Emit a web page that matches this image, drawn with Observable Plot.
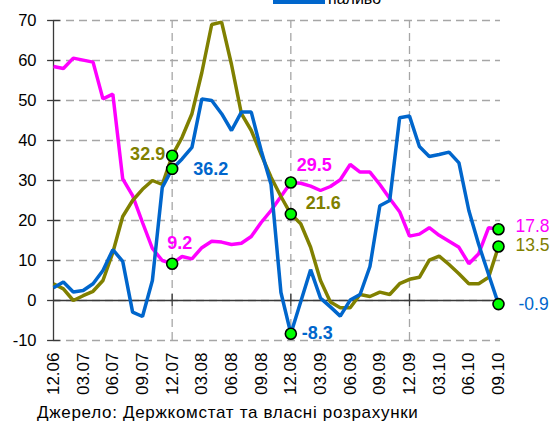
<!DOCTYPE html>
<html><head><meta charset="utf-8">
<script src="https://cdn.jsdelivr.net/npm/d3@7"></script>
<script src="https://cdn.jsdelivr.net/npm/@observablehq/plot@0.6"></script>
<style>
body{margin:0;background:#fff;font-family:"Liberation Sans",Arial,sans-serif;}
#wrap{position:relative;width:552px;height:430px;overflow:hidden;background:#fff;}
#chart{position:absolute;left:0;top:0;}
#legend{position:absolute;left:0;top:0;width:552px;height:8px;overflow:hidden;}
.sw{position:absolute;left:273px;top:0px;width:52px;height:4px;background:#0066CC;}
.lt{position:absolute;left:328px;top:-10px;font-size:16px;line-height:18px;color:#000;white-space:nowrap;}
#source{position:absolute;left:37px;top:403px;font-size:17px;line-height:20px;letter-spacing:0.7px;color:#000;white-space:nowrap;}
</style></head>
<body>
<div id="wrap">
  <div id="chart"></div>
  <div id="legend"><div class="sw"></div><div class="lt">паливо</div></div>
  <div id="source">Джерело: Держкомстат та власні розрахунки</div>
</div>
<script>
// monthly observations, 12.06 .. 09.10
const months = ["12.06","01.07","02.07","03.07","04.07","05.07","06.07","07.07","08.07","09.07","10.07","11.07",
  "12.07","01.08","02.08","03.08","04.08","05.08","06.08","07.08","08.08","09.08","10.08","11.08",
  "12.08","01.09","02.09","03.09","04.09","05.09","06.09","07.09","08.09","09.09","10.09","11.09",
  "12.09","01.10","02.10","03.10","04.10","05.10","06.10","07.10","08.10","09.10"];
const seriesNames = ["magenta", "olive", "паливо"];
const seriesColors = ["#FF00FF", "#808000", "#0066CC"];
const magenta = [58.5,58.0,60.6,60.1,59.6,50.4,51.6,30.4,26.2,19.5,13.0,10.0,
  9.2,11.0,10.4,13.2,14.8,14.6,14.0,14.3,16.0,19.5,22.5,26.0,
  29.5,29.3,28.6,27.5,28.5,30.2,34.0,32.1,32.1,29.0,25.5,22.2,
  16.1,16.6,18.2,16.3,14.8,13.3,9.2,11.7,18.2,17.8];
const olive = [4.2,2.9,0.0,1.2,2.3,5.0,12.0,21.0,25.0,27.8,30.0,29.0,
  36.2,40.8,46.7,57.0,69.0,69.6,59.0,46.7,42.5,36.5,30.8,26.0,
  21.6,19.2,13.3,5.0,-0.4,-1.8,-1.8,1.5,1.0,2.1,1.5,4.2,
  5.3,5.8,10.1,11.1,9.0,6.7,4.2,4.2,5.8,13.5];
const fuel = [3.2,4.6,2.1,2.5,4.2,7.5,12.7,9.8,-2.9,-4.0,5.0,28.3,
  32.9,35.4,38.3,50.4,50.0,46.7,42.5,47.1,47.1,37.5,29.0,2.0,
  -8.3,-0.3,7.7,0.6,-1.6,-3.9,0.1,1.5,8.5,23.7,25.0,45.7,
  46.1,38.5,36.0,36.5,37.1,34.4,22.5,14.0,6.5,-0.9];
const seriesValues = [magenta, olive, fuel];
const xTickLabels = ["12.06","03.07","06.07","09.07","12.07","03.08","06.08","09.08","12.08","03.09","06.09","09.09","12.09","03.10","06.10","09.10"];
const yTicks = [-10,0,10,20,30,40,50,60,70];
const yearMonths = ["12.07","12.08","12.09"];
const markerMonths = ["12.07","12.08","09.10"];
// data labels as printed on the chart
const labelSeries = ["olive","паливо","magenta","magenta","olive","паливо","magenta","olive","паливо"];
const labelMonth  = ["12.07","12.07","12.07","12.08","12.08","12.08","09.10","09.10","09.10"];
const labelText   = ["32.9","36.2","9.2","29.5","21.6","-8.3","17.8","13.5","-0.9"];

const rows = [];
seriesNames.forEach((s, k) => seriesValues[k].forEach((v, i) => rows.push({series: s, i, month: months[i], v})));
const idx = m => months.indexOf(m);
const markerRows = rows.filter(d => markerMonths.includes(d.month));
const colorOf = s => seriesColors[seriesNames.indexOf(s)];

// label placement (style only)
const labelStyle = [
  {dx:-7, dy:-1, anchor:"end", weight:"bold", size:18},
  {dx:21, dy:0, anchor:"start", weight:"bold", size:18},
  {dx:-5, dy:-20, anchor:"start", weight:"bold", size:18},
  {dx:6, dy:-17, anchor:"start", weight:"bold", size:18},
  {dx:15, dy:-11, anchor:"start", weight:"bold", size:18},
  {dx:11, dy:0, anchor:"start", weight:"bold", size:18},
  {dx:17, dy:-3, anchor:"start", weight:"normal", size:17.5},
  {dx:17, dy:-1, anchor:"start", weight:"normal", size:17.5},
  {dx:20, dy:0, anchor:"start", weight:"normal", size:17.5}
];
const labelMarks = labelText.map((t, j) => {
  const s = labelSeries[j];
  const i = idx(labelMonth[j]);
  const v = seriesValues[seriesNames.indexOf(s)][i];
  const st = labelStyle[j];
  return Plot.text([{i, v, t}], {x: "i", y: "v", text: "t", fill: colorOf(s),
    fontWeight: st.weight, fontSize: st.size, textAnchor: st.anchor, dx: st.dx, dy: st.dy});
});

const axisColor = "#3a3a3a";
const gridColor = "#a6a6a6";
const yearIdx = yearMonths.map(idx);
const xTickIdx = xTickLabels.map(idx);

const chart = Plot.plot({
  width: 552, height: 400,
  marginTop: 20, marginBottom: 60, marginLeft: 53, marginRight: 54,
  style: {fontFamily: "'Liberation Sans', Arial, sans-serif", fontSize: "16px", color: "#000", background: "#fff"},
  x: {domain: [0, 45], axis: null},
  y: {domain: [-10, 70], axis: null},
  color: {domain: seriesNames, range: seriesColors},
  marks: [
    Plot.ruleY(yTicks, {y: d => d, x1: 0, x2: 45.2, stroke: gridColor, strokeWidth: 1.3, strokeDasharray: "8,5"}),
    Plot.ruleX(yearIdx, {x: d => d, y1: -10, y2: 70, stroke: gridColor, strokeWidth: 1.3, strokeDasharray: "8,5"}),
    Plot.ruleX([0], {x: d => d, y1: -10, y2: 70, stroke: axisColor, strokeWidth: 1.3}),
    Plot.ruleY(yTicks, {y: d => d, x1: -0.6, x2: 0.7, stroke: axisColor, strokeWidth: 1.3}),
    Plot.ruleY([0], {y: d => d, x1: 0, x2: 45, stroke: axisColor, strokeWidth: 1.3}),
    Plot.ruleX(yearIdx, {x: d => d, y1: -1.5, y2: 1.5, stroke: axisColor, strokeWidth: 1.3}),
    Plot.text(yTicks, {x: 0, y: d => d, text: d => String(d), textAnchor: "end", dx: -17, fontSize: 16.5, fill: "#000"}),
    Plot.text(xTickIdx, {x: d => d, y: -10, text: (d, i) => xTickLabels[i], rotate: -90, textAnchor: "end", dy: 12, fontSize: 17, fill: "#000"}),
    Plot.line(rows, {x: "i", y: "v", z: "series", stroke: "series", strokeWidth: 3.5, strokeLinejoin: "miter", strokeLinecap: "butt"}),
    Plot.dot(markerRows, {x: "i", y: "v", r: 5.5, fill: "#00FF00", stroke: "#000", strokeWidth: 1.6}),
    ...labelMarks
  ]
});
document.getElementById("chart").appendChild(chart);
</script>
</body></html>
